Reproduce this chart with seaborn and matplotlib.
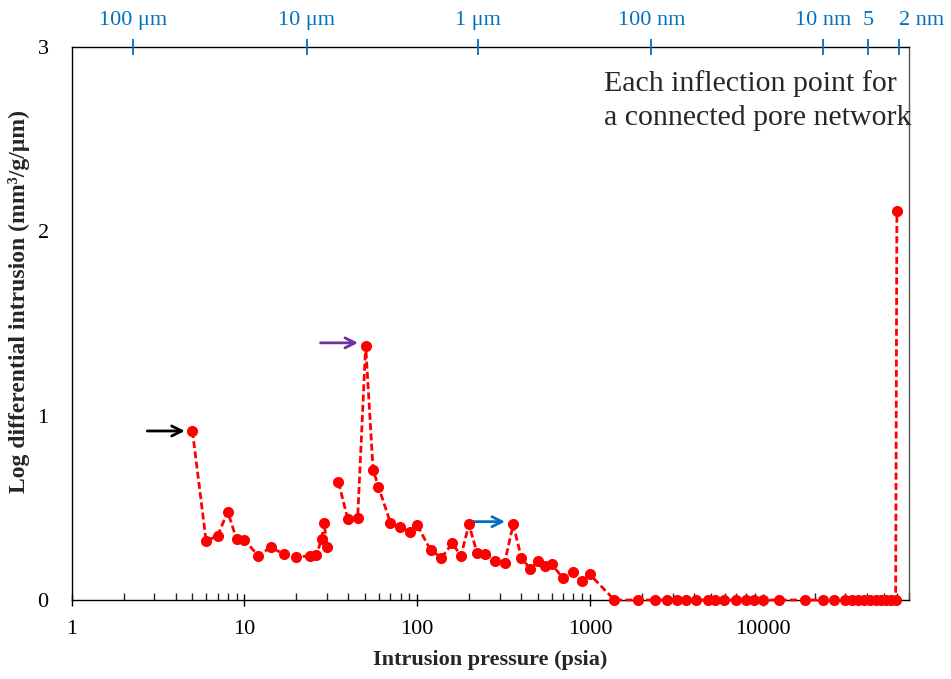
import numpy as np
import pandas as pd
import matplotlib
matplotlib.use("Agg")
import matplotlib.pyplot as plt
import seaborn as sns
from matplotlib.ticker import FixedLocator, MultipleLocator, LogLocator, NullFormatter, FuncFormatter
from matplotlib.transforms import offset_copy

# ---------------- data ----------------
pressure_a = [5.0, 6.0, 7.0, 8.0, 9.0, 10.0, 12.0, 14.2, 17.0, 20.0, 24.0, 26.1, 28.0, 28.9, 30.1]
value_a = [0.917, 0.321, 0.348, 0.48, 0.33, 0.327, 0.24, 0.286, 0.248, 0.233, 0.24, 0.244, 0.333, 0.42, 0.286]

pressure_b = [35.0, 39.6, 45.2, 50.3, 55.5, 59.6, 69.9, 79.9, 90.4, 100.0, 119.5, 138.0, 159.6, 179.0,
              199.0, 222.0, 248.0, 280.0, 320.0, 359.0, 400.0, 451.0, 499.0, 547.0, 601.0, 695.0, 794.0,
              892.0, 996.0,
              1384, 1902, 2386, 2800, 3187, 3591, 4102, 4787, 5303, 5981, 6992, 7985, 8838, 9960, 12440,
              17590, 22350, 25870, 29940, 32860, 35590, 38560, 41770, 45250, 48340, 51640, 55170, 58610,
              59600]
value_b = [0.639, 0.44, 0.445, 1.38, 0.707, 0.615, 0.42, 0.394, 0.37, 0.405, 0.271, 0.23, 0.307, 0.24,
           0.41, 0.255, 0.25, 0.21, 0.20, 0.41, 0.23, 0.168, 0.21, 0.183, 0.194, 0.119, 0.15,
           0.103, 0.139,
           0, 0, 0, 0, 0, 0, 0, 0, 0, 0, 0, 0, 0, 0, 0,
           0, 0, 0, 0, 0, 0, 0, 0, 0, 0, 0, 0, 0,
           2.11]

x_ticks = [1, 10, 100, 1000, 10000]
y_ticks = [0, 1, 2, 3]
pore_labels = ["100 μm", "10 μm", "1 μm", "100 nm", "10 nm", "5", "2 nm"]
pore_pressure = [2.26, 22.9, 224, 2265, 22350, 40700, 61500]

annotation_text = "Each inflection point for\na connected pore network"

# ---------------- figure ----------------
sns.set_style("white")
plt.rcParams["font.family"] = ["Liberation Serif", "DejaVu Serif"]
plt.rcParams["axes.linewidth"] = 1.0

df = pd.DataFrame({
    "p": pressure_a + pressure_b,
    "v": value_a + value_b,
    "seg": [0] * len(pressure_a) + [1] * len(pressure_b),
})

fig = plt.figure(figsize=(9.51, 6.79), dpi=100)
ax = fig.add_axes([0.0753, 0.1163, 0.8805, 0.8145])

sns.lineplot(data=df, x="p", y="v", units="seg", estimator=None, sort=False,
             color="#ff0000", linestyle=(0, (2.5, 1.2)), linewidth=2.0,
             marker="o", markersize=8, markeredgecolor="#ff0000", markeredgewidth=0,
             ax=ax, clip_on=False, zorder=5)

ax.set_xscale("log")
ax.set_xlim(1, 70000)
ax.set_ylim(0, 3)

ax.xaxis.set_major_locator(FixedLocator(x_ticks))
ax.xaxis.set_major_formatter(FuncFormatter(lambda v, p: f"{v:g}"))
ax.xaxis.set_minor_locator(LogLocator(base=10, subs=np.arange(2, 10), numticks=20))
ax.xaxis.set_minor_formatter(NullFormatter())
ax.yaxis.set_major_locator(FixedLocator(y_ticks))
ax.yaxis.set_minor_locator(MultipleLocator(0.2))

ax.tick_params(axis="both", which="major", direction="inout", length=9, width=1,
               labelsize=16, colors="black")
ax.tick_params(axis="both", which="minor", direction="in", length=5, width=1)
ax.tick_params(axis="x", which="major", pad=10)
ax.tick_params(axis="y", which="major", pad=12)

for s in ["left", "bottom", "top"]:
    ax.spines[s].set_color("black")
ax.spines["right"].set_color("#555555")

ax.set_xlabel("Intrusion pressure (psia)", fontsize=16, fontweight="bold", labelpad=8)
ax.set_ylabel("Log differential intrusion (mm³/g/μm)", fontsize=17, fontweight="bold")
ax.yaxis.set_label_coords(-0.05, 0.54)

# top pore-size axis
ax2 = ax.twiny()
ax2.set_xscale("log")
ax2.set_xlim(ax.get_xlim())
ax2.xaxis.set_major_locator(FixedLocator(pore_pressure))
ax2.set_xticklabels(pore_labels)
ax2.xaxis.set_minor_locator(FixedLocator([]))
ax2.tick_params(axis="x", which="major", direction="inout", length=12, width=1.3,
                colors="#0070C0", labelsize=16, pad=6)
for s in ax2.spines.values():
    s.set_visible(False)
labs = ax2.get_xticklabels()
labs[-1].set_horizontalalignment("left")

# text
ax.text(0.636, 0.958, annotation_text, transform=ax.transAxes, ha="left", va="top",
        fontsize=21.5, linespacing=1.4)

# arrows pointing to inflection points
all_p = pressure_a + pressure_b
all_v = value_a + value_b
i_black = 0
i_purple = all_v.index(max(value_b[:10]))
i_blue = len(pressure_a) + pressure_b.index(199.0)

tr = offset_copy(ax.transData, fig=fig, x=-5.5, y=0, units="points")
ax.annotate("", xy=(all_p[i_black], all_v[i_black]), xycoords=tr, xytext=(-27, 0),
            textcoords="offset points",
            arrowprops=dict(arrowstyle="->", color="black", lw=2, mutation_scale=18,
                            shrinkA=0, shrinkB=0))
tr2 = offset_copy(ax.transData, fig=fig, x=-5.5, y=2, units="points")
ax.annotate("", xy=(all_p[i_purple], all_v[i_purple]), xycoords=tr2, xytext=(-27, 0),
            textcoords="offset points",
            arrowprops=dict(arrowstyle="->", color="#7030A0", lw=2, mutation_scale=18,
                            shrinkA=0, shrinkB=0))
tr3 = offset_copy(ax.transData, fig=fig, x=0, y=2, units="points")
ax.annotate("", xy=(all_p[i_blue], all_v[i_blue]), xycoords=tr3, xytext=(26, 0),
            textcoords="offset points",
            arrowprops=dict(arrowstyle="<-", color="#0070C0", lw=2, mutation_scale=18,
                            shrinkA=0, shrinkB=0))

fig.savefig("out.png", dpi=100)
